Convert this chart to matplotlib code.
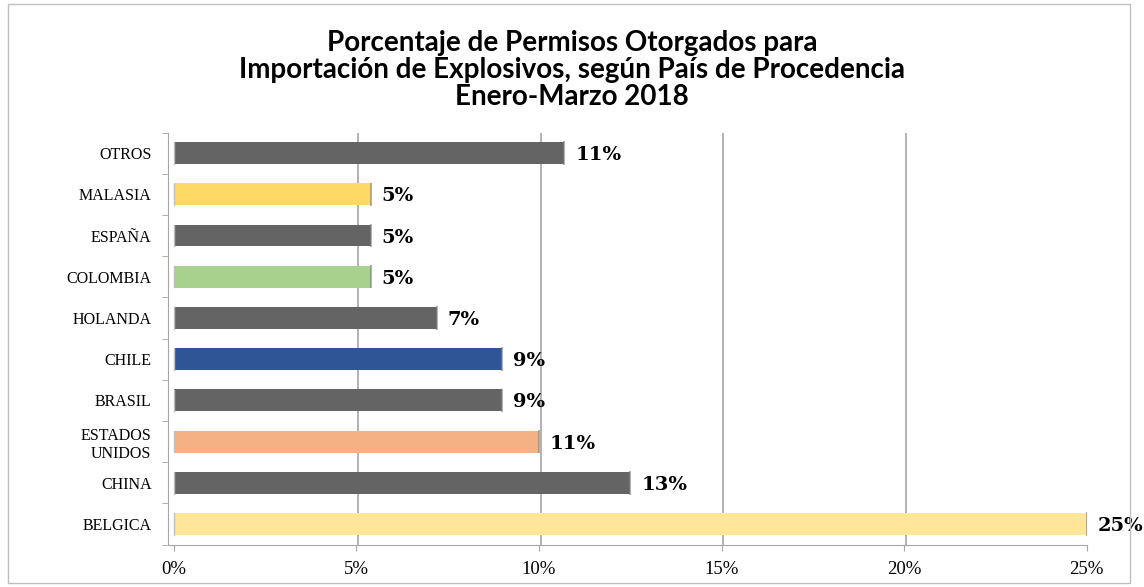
import numpy as np
import matplotlib.pyplot as plt
from matplotlib.patches import Rectangle

plt.rcParams['font.family'] = ['Liberation Serif']
plt.rcParams['ytick.labelsize'] = 11.5
plt.rcParams['xtick.labelsize'] = 13.5

# data, bottom to top as drawn
paises = ['BELGICA', 'CHINA', 'ESTADOS\nUNIDOS', 'BRASIL', 'CHILE',
          'HOLANDA', 'COLOMBIA', 'ESPAÑA', 'MALASIA', 'OTROS']
porcentaje = [25.0, 12.5, 10.0, 9.0, 9.0, 7.2, 5.4, 5.4, 5.4, 10.7]
etiquetas = ['25%', '13%', '11%', '9%', '9%', '7%', '5%', '5%', '5%', '11%']
colores = ['#FFE699', '#646464', '#F4B183', '#646464', '#2F5597',
           '#646464', '#A9D18E', '#646464', '#FFD966', '#646464']
xticks = [0, 5, 10, 15, 20, 25]

fig = plt.figure(figsize=(11.44, 5.87), dpi=100)
fig.patches.append(Rectangle((0.007, 0.006), 0.981, 0.988, transform=fig.transFigure,
                             fill=False, edgecolor='#BFBFBF', lw=1))

ax = fig.add_axes([0.147, 0.0722, 0.803, 0.702])
y = np.arange(len(paises))
ax.barh(y, porcentaje, height=0.53, color=colores, edgecolor='none', zorder=3)
# thin shadow edge on the right of each bar (3D look)
for yi, v in zip(y, porcentaje):
    ax.plot([v, v], [yi - 0.26, yi + 0.26], color='#7F7F7F', lw=1.5, alpha=0.6, zorder=4)
    ax.plot([0, 0], [yi - 0.26, yi + 0.26], color='#BFBFBF', lw=1, zorder=4)

for yi, v, lab in zip(y, porcentaje, etiquetas):
    ax.text(v + 0.3, yi - 0.05, lab, va='center', ha='left', fontsize=14,
            fontweight='bold', family='DejaVu Serif', color='black', zorder=5)

ax.set_xlim(-0.15, 25)
ax.set_ylim(-0.5, 9.5)
ax.set_xticks(xticks)
ax.set_xticklabels([str(t) + '%' for t in xticks])
ax.set_yticks(y)
ax.set_yticklabels(paises, linespacing=1.1)
ax.set_yticks(np.arange(-0.5, 10, 1), minor=True)
ax.tick_params(axis='y', which='major', length=0, pad=12)
ax.tick_params(axis='y', which='minor', length=4, color='#A6A6A6', direction='out')
ax.tick_params(axis='x', length=4, color='#A6A6A6', pad=8)
for t in xticks[1:]:
    ax.axvline(t + 0.05, color='#A6A6A6', lw=1.2, zorder=1)

for s in ['top', 'right']:
    ax.spines[s].set_visible(False)
ax.spines['left'].set_color('#A6A6A6')
ax.spines['bottom'].set_color('#A6A6A6')
ax.spines['left'].set_position(('data', -0.15))

fig.text(0.5, 0.88, 'Porcentaje de Permisos Otorgados para\n'
         'Importación de Explosivos, según País de Procedencia\nEnero-Marzo 2018',
         ha='center', va='center', fontsize=20, fontweight='bold',
         family='Lato', linespacing=1.05)

fig.savefig('out.png', dpi=100)
